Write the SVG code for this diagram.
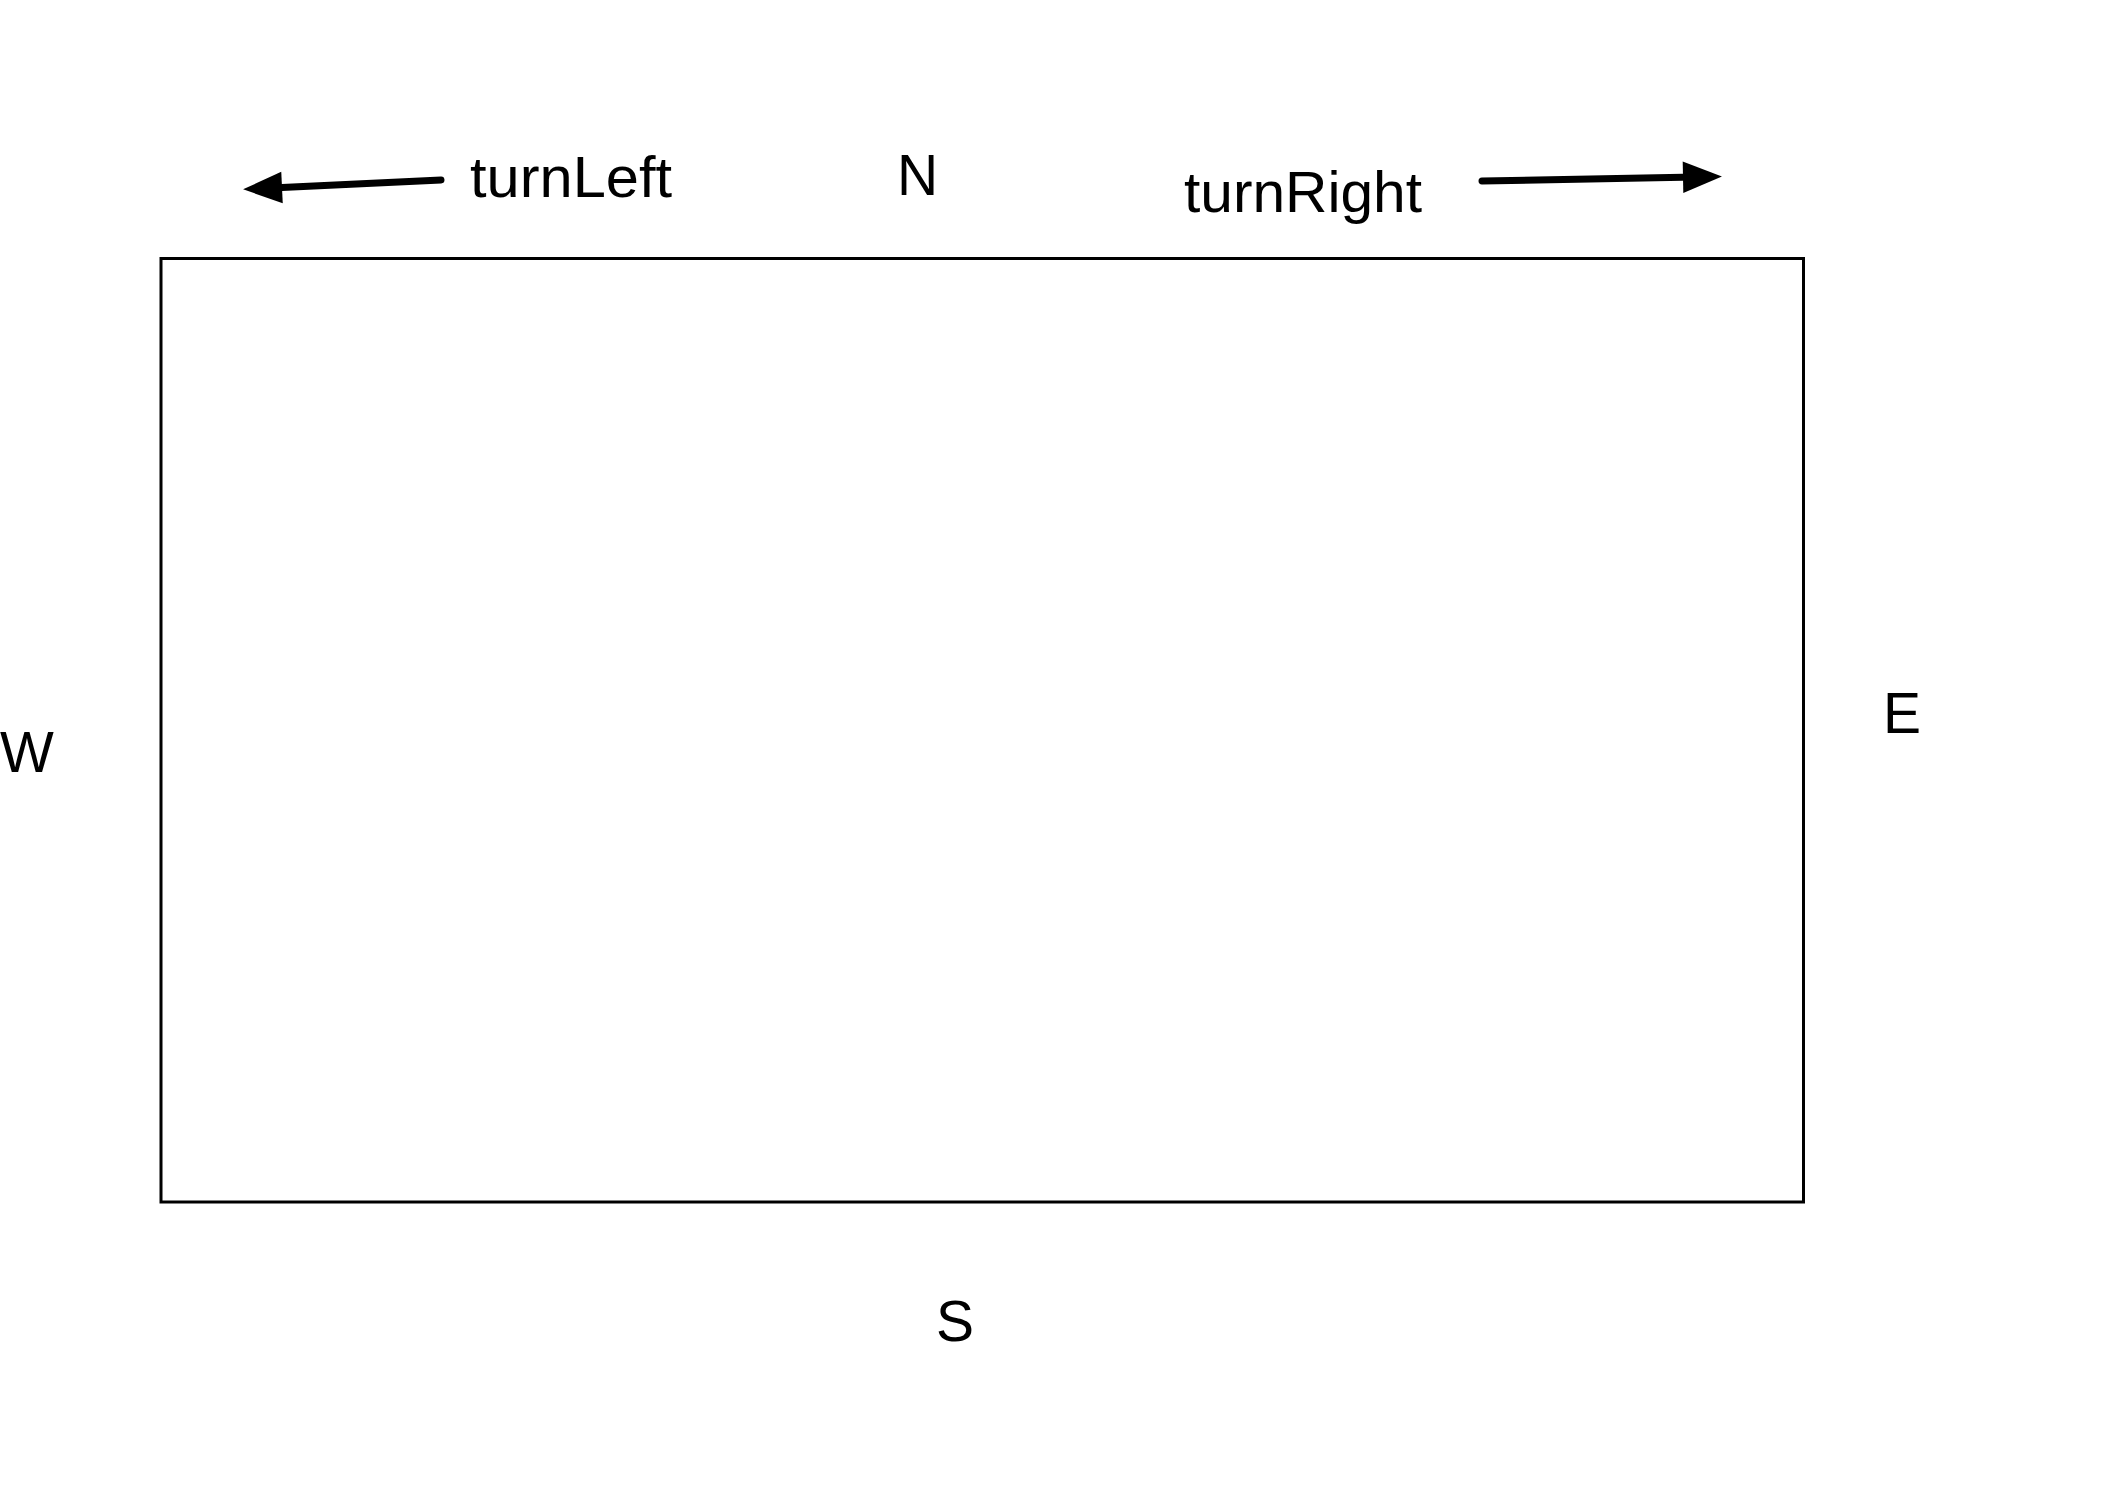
<svg xmlns="http://www.w3.org/2000/svg" width="2112" height="1496" viewBox="0 0 2112 1496">
  <style>
    .lbl { font-family: "Liberation Sans", Arial, sans-serif; font-size: 57px; fill: #000; }
    .conn { stroke: #000; stroke-width: 7; stroke-linecap: round; fill: none; }
  </style>
  <defs>
    <marker id="arrow" markerUnits="userSpaceOnUse" markerWidth="40" markerHeight="34" viewBox="0 -16 38 32" refX="0" refY="0" orient="auto" overflow="visible">
      <path d="M0,-15 L37,0 L0,15 Z" fill="#000"/>
    </marker>
  </defs>
  <rect width="2112" height="1496" fill="#fff"/>
  <g id="board">
    <rect x="161" y="258.5" width="1642.5" height="943.5" fill="none" stroke="#000" stroke-width="3"/>
  </g>
  <g id="label-N"><text class="lbl" x="897" y="195">N</text></g>
  <g id="label-S"><text class="lbl" x="936" y="1341">S</text></g>
  <g id="label-W"><text class="lbl" x="0" y="772">W</text></g>
  <g id="label-E"><text class="lbl" x="1883" y="733">E</text></g>
  <g id="label-turnLeft"><text class="lbl" x="470" y="197" textLength="202" lengthAdjust="spacingAndGlyphs">turnLeft</text></g>
  <g id="label-turnRight"><text class="lbl" x="1184" y="212" textLength="238" lengthAdjust="spacingAndGlyphs">turnRight</text></g>
  <g id="connectors">
    <path class="conn" d="M441,180 L282,187.5" marker-end="url(#arrow)"/>
    <path class="conn" d="M1482,181 L1683,177.3" marker-end="url(#arrow)"/>
  </g>
</svg>
